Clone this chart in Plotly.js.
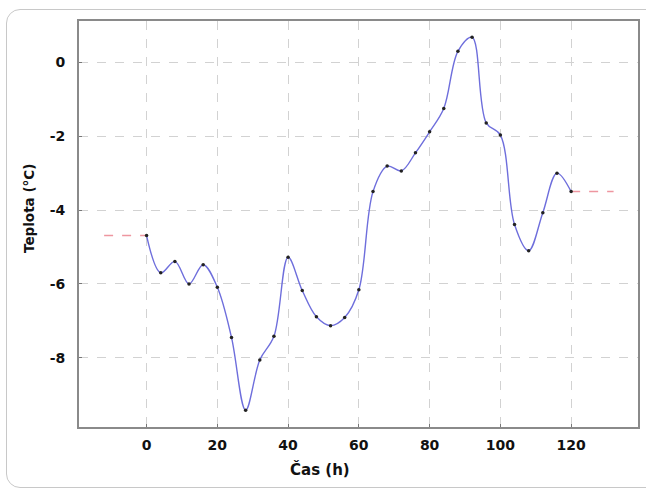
<!DOCTYPE html>
<html>
<head>
<meta charset="utf-8">
<script src="https://cdn.plot.ly/plotly-3.0.1.min.js"></script>
<style>
  html, body { margin:0; padding:0; background:#fff; overflow:hidden; }
  #chart { position:absolute; left:0; top:0; width:646px; height:489px; }
  #frame { position:absolute; left:6px; top:9px; width:660px; height:477px;
           border:1px solid #c8c8c8; border-radius:14px; pointer-events:none; }
</style>
</head>
<body>
<div id="chart"></div>
<div id="frame"></div>
<script>
// Measured temperature (every 4 h)
const hours = [0,4,8,12,16,20,24,28,32,36,40,44,48,52,56,60,64,68,72,76,80,84,88,92,96,100,104,108,112,116,120];
const temps = [-4.69,-5.70,-5.39,-6.00,-5.48,-6.09,-7.45,-9.42,-8.06,-7.42,-5.28,-6.18,-6.89,-7.13,-6.91,-6.16,-3.50,-2.81,-2.94,-2.45,-1.88,-1.25,0.30,0.68,-1.64,-1.97,-4.39,-5.10,-4.07,-3.00,-3.50];
// Constant extrapolated segments (dashed)
const leftX = [-12, 0];
const leftY = [-4.69, -4.69];
const rightX = [120, 132];
const rightY = [-3.50, -3.50];
const xTicks = [0,20,40,60,80,100,120];
const yTicks = [0,-2,-4,-6,-8];
const xTitle = 'Čas (h)';
const yTitle = 'Teplota (°C)';

const font = 'DejaVu Sans, Verdana, sans-serif';
const traces = [
  {x:leftX, y:leftY, mode:'lines', line:{color:'rgb(238,150,160)', width:1.5, dash:'dash'}, hoverinfo:'skip'},
  {x:rightX, y:rightY, mode:'lines', line:{color:'rgb(238,150,160)', width:1.5, dash:'dash'}, hoverinfo:'skip'},
  {x:hours, y:temps, mode:'lines+markers', line:{color:'rgb(110,110,220)', width:1.4, shape:'spline', smoothing:1},
   marker:{color:'#222', size:3.5}}
];
const axisCommon = {
  showline:true, mirror:true, linecolor:'#8a8a8a', linewidth:2,
  showgrid:true, gridcolor:'#d2d2d2', griddash:'dash', gridwidth:1,
  zeroline:false, ticks:'inside', ticklen:3, tickcolor:'#777',
  tickfont:{family:font, size:14, color:'#111', weight:'bold'}
};
const layout = {
  width:646, height:489,
  margin:{l:79, r:8, t:21, b:62},
  paper_bgcolor:'rgba(0,0,0,0)', plot_bgcolor:'#fff',
  showlegend:false,
  xaxis: Object.assign({}, axisCommon, {range:[-19.1,138.9], tickmode:'array', tickvals:xTicks, ticktext:xTicks.map(String), ticklabelstandoff:4}),
  yaxis: Object.assign({}, axisCommon, {range:[-9.875,1.12], tickmode:'array', tickvals:yTicks, ticktext:yTicks.map(String), ticklabelstandoff:9}),
  annotations:[
    {text:xTitle, xref:'paper', yref:'paper', x:(320-79)/559, y:-(469-427)/406, xanchor:'center', yanchor:'middle', showarrow:false,
     font:{family:font, size:15, color:'#111', weight:'bold'}},
    {text:yTitle, xref:'paper', yref:'paper', x:-(79-29)/559, y:(427-209)/406, xanchor:'center', yanchor:'middle', showarrow:false, textangle:-90,
     font:{family:font, size:13.5, color:'#111', weight:'bold'}}
  ]
};
Plotly.newPlot('chart', traces, layout, {staticPlot:true, displayModeBar:false});
</script>
</body>
</html>
